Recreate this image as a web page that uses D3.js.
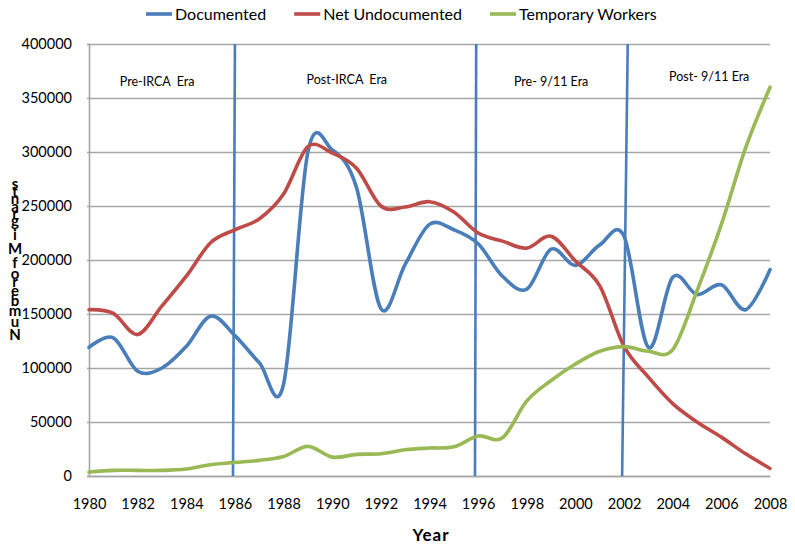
<!DOCTYPE html>
<html>
<head>
<meta charset="utf-8">
<script src="https://cdn.jsdelivr.net/npm/d3@7"></script>
<style>
  html, body { margin: 0; padding: 0; background: #fff; }
  svg { display: block; font-family: Lato, "Open Sans", sans-serif; }
</style>
</head>
<body>
<svg id="chart" width="795" height="549"></svg>
<script>
// ---- data ----
const years = d3.range(1980, 2009);
const documented = [119000, 128000, 97000, 100000, 120000, 148000, 130000, 105000, 85000, 300000,
  302000, 267000, 155000, 196000, 233000, 228000, 215000, 185000, 173000, 210000,
  195000, 214000, 222000, 119000, 184000, 168000, 177000, 154000, 191000];
const netUndocumented = [154000, 150500, 131000, 157500, 185000, 216000, 228000, 238000, 261000, 305000,
  299000, 285000, 250000, 249000, 254000, 244500, 225000, 217500, 211000, 222000,
  199000, 176000, 120000, 91500, 67000, 50000, 36000, 20500, 7000];
const temporaryWorkers = [3700, 5200, 5200, 5200, 6500, 10500, 12600, 14500, 18000, 27400,
  17500, 20000, 20600, 24300, 25900, 27000, 37000, 35400, 69500, 88400,
  103700, 115500, 119800, 115500, 117000, 171500, 233000, 304000, 360000];
const seriesNames = ["Documented", "Net Undocumented", "Temporary Workers"];
const seriesColors = ["#4A7EBB", "#BE4B48", "#98B954"];
const yTicks = [0, 50000, 100000, 150000, 200000, 250000, 300000, 350000, 400000];
const xTicks = [1980, 1982, 1984, 1986, 1988, 1990, 1992, 1994, 1996, 1998, 2000, 2002, 2004, 2006, 2008];
const eraLineTop = [1986.0, 1995.92, 2002.15];
const eraLineBottom = [1985.92, 1995.87, 2001.92];
const eraLabels = ["Pre-IRCA  Era", "Post-IRCA  Era", "Pre- 9/11 Era", "Post- 9/11 Era"];
const eraLabelYear = [1982.8, 1990.6, 1999.0, 2005.5];
const eraLabelValue = [361000, 363000, 361000, 366000];
const xTitle = "Year";
const yTitle = "Number of Migrants";
// glyph baselines of the stacked y title (layout only), one per character
const yTitleBaselines = [340, 327, 316, 306, 296, 287, 287, 279, 268, 268, 254, 240, 226, 219, 212, 204, 197, 189];

// ---- layout ----
const svg = d3.select("#chart");
const x = d3.scaleLinear().domain([1980, 2008]).range([89, 770]);
const y = d3.scaleLinear().domain([0, 400000]).range([476, 44]);

// gridlines
svg.append("g")
  .attr("transform", "translate(89,0)")
  .call(d3.axisLeft(y).tickValues(yTicks).tickSize(-(770 - 89)).tickFormat(""))
  .call(g => g.select(".domain").remove())
  .call(g => g.selectAll("line").attr("stroke", "#a6a6a6").attr("stroke-width", 1.6));

// y axis
svg.append("g")
  .attr("transform", "translate(89,0)")
  .call(d3.axisLeft(y).tickValues(yTicks).tickSize(2).tickPadding(15).tickFormat(d3.format("d")))
  .call(g => g.select(".domain").attr("stroke", "#a6a6a6").attr("stroke-width", 1.6))
  .call(g => g.selectAll("line").attr("stroke", "#a6a6a6").attr("stroke-width", 1.6))
  .call(g => g.selectAll("text").attr("font-size", 14.5).attr("fill", "#000")
    .attr("font-family", "Lato, sans-serif"));

// x axis
svg.append("g")
  .attr("transform", "translate(0,476)")
  .call(d3.axisBottom(x).tickValues(xTicks).tickSize(0).tickPadding(23).tickFormat(d3.format("d")))
  .call(g => g.select(".domain").attr("stroke", "#a6a6a6").attr("stroke-width", 1.6))
  .call(g => g.selectAll("text").attr("font-size", 14.5).attr("fill", "#000")
    .attr("font-family", "Lato, sans-serif"));

// era lines
svg.append("g").selectAll("line")
  .data(eraLineTop)
  .join("line")
  .attr("x1", d => x(d))
  .attr("x2", (d, i) => x(eraLineBottom[i]))
  .attr("y1", y(400000))
  .attr("y2", y(0))
  .attr("stroke", "#4A7EBB")
  .attr("stroke-width", 2.6);

// era labels
svg.append("g").selectAll("text")
  .data(eraLabels)
  .join("text")
  .attr("x", (d, i) => x(eraLabelYear[i]))
  .attr("y", (d, i) => y(eraLabelValue[i]))
  .attr("text-anchor", "middle")
  .attr("font-size", 12.5)
  .attr("fill", "#000")
  .style("white-space", "pre")
  .text(d => d);

// series lines
const allSeries = [documented, netUndocumented, temporaryWorkers];
const line = d3.line()
  .x((d, i) => x(years[i]))
  .y(d => y(d))
  .curve(d3.curveCardinal.tension(0));

svg.append("g").selectAll("path")
  .data(allSeries)
  .join("path")
  .attr("d", d => line(d))
  .attr("fill", "none")
  .attr("stroke", (d, i) => seriesColors[i])
  .attr("stroke-width", 3.6)
  .attr("stroke-linejoin", "round")
  .attr("stroke-linecap", "round");

// legend
const legend = svg.append("g");
let lx = 146;
seriesNames.forEach((name, i) => {
  legend.append("line")
    .attr("x1", lx).attr("x2", lx + 26)
    .attr("y1", 14).attr("y2", 14)
    .attr("stroke", seriesColors[i]).attr("stroke-width", 3.6);
  const t = legend.append("text")
    .attr("x", lx + 29).attr("y", 19.5)
    .attr("font-size", 16)
    .attr("fill", "#000")
    .text(name);
  lx = lx + 29 + t.node().getComputedTextLength() + 28;
});

// x title
svg.append("text")
  .attr("x", 431).attr("y", 541)
  .attr("text-anchor", "middle")
  .attr("font-size", 17)
  .attr("font-weight", "bold")
  .attr("letter-spacing", 1)
  .text(xTitle);

// y title: characters stacked upright, read bottom to top
const yt = svg.append("text")
  .attr("font-size", 15)
  .attr("font-weight", "bold")
  .attr("text-anchor", "middle")
  .attr("fill", "#000");
yTitle.split("").forEach((ch, i) => {
  yt.append("tspan")
    .attr("x", 15)
    .attr("y", yTitleBaselines[i])
    .text(ch);
});
</script>
</body>
</html>
